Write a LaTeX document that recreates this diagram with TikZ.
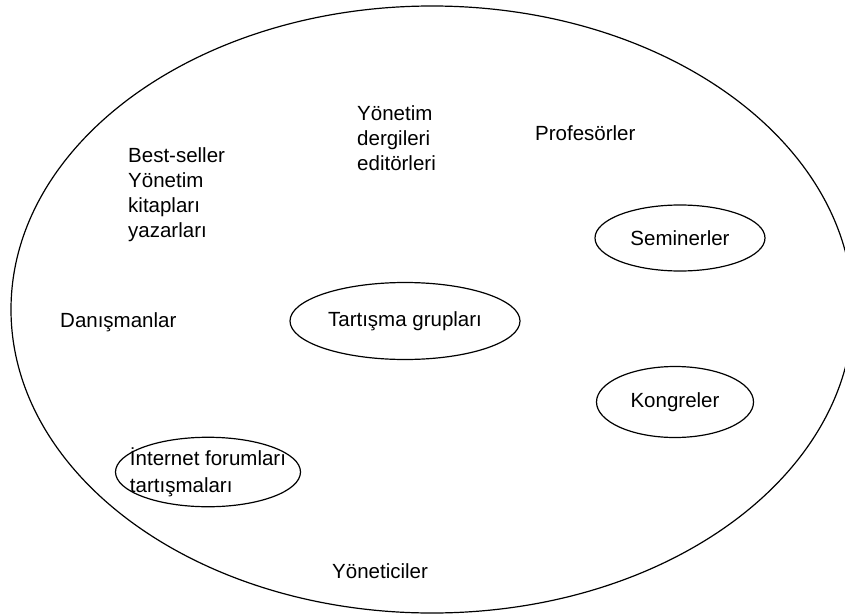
\documentclass[tikz,border=0pt]{standalone}
\usepackage{fontspec}
\setmainfont{Liberation Sans}
\usetikzlibrary{shapes.geometric}
\tikzset{bubble/.style={ellipse, draw, line width=1.2pt, inner sep=0pt},
         plain/.style={inner sep=0pt, align=left}}

\begin{document}
\begin{tikzpicture}[x=1pt, y=-1pt, font=\fontsize{20.5}{25}\selectfont]
            \useasboundingbox (0,0) rectangle (845,615);
            \clip (0,0) rectangle (845,615);
            % outer field
            \node[bubble, minimum width=842pt, minimum height=607pt] (field) at (432,309.5) {};
            % plain labels
            \node[plain, anchor=north west] (bestseller) at (128,147) {Best-seller\\Yönetim\\kitapları\\yazarları};
            \node[plain, anchor=north west] (dergi) at (357,105) {Yönetim\\dergileri\\editörleri};
            \node[plain, anchor=base west] (prof) at (535,140) {Profesörler};
            \node[plain, anchor=base west] (danis) at (60,327) {Danışmanlar};
            \node[plain, anchor=base west] (yonetici) at (332,578) {Yöneticiler};
            % circled labels
            \node[bubble, minimum width=170pt, minimum height=66pt] (sem) at (680,238) {Seminerler};
            \node[bubble, minimum width=230pt, minimum height=77pt] (tart) at (405,321) {Tartışma grupları};
            \node[bubble, minimum width=157pt, minimum height=71pt] (kong) at (675,402) {Kongreler};
            \node[bubble, minimum width=185pt, minimum height=69pt, inner xsep=-16pt, align=left,
                  font=\fontsize{20.5}{27}\selectfont] (forum) at (208,472) {İnternet forumları\\tartışmaları};
        \end{tikzpicture}
\end{document}
